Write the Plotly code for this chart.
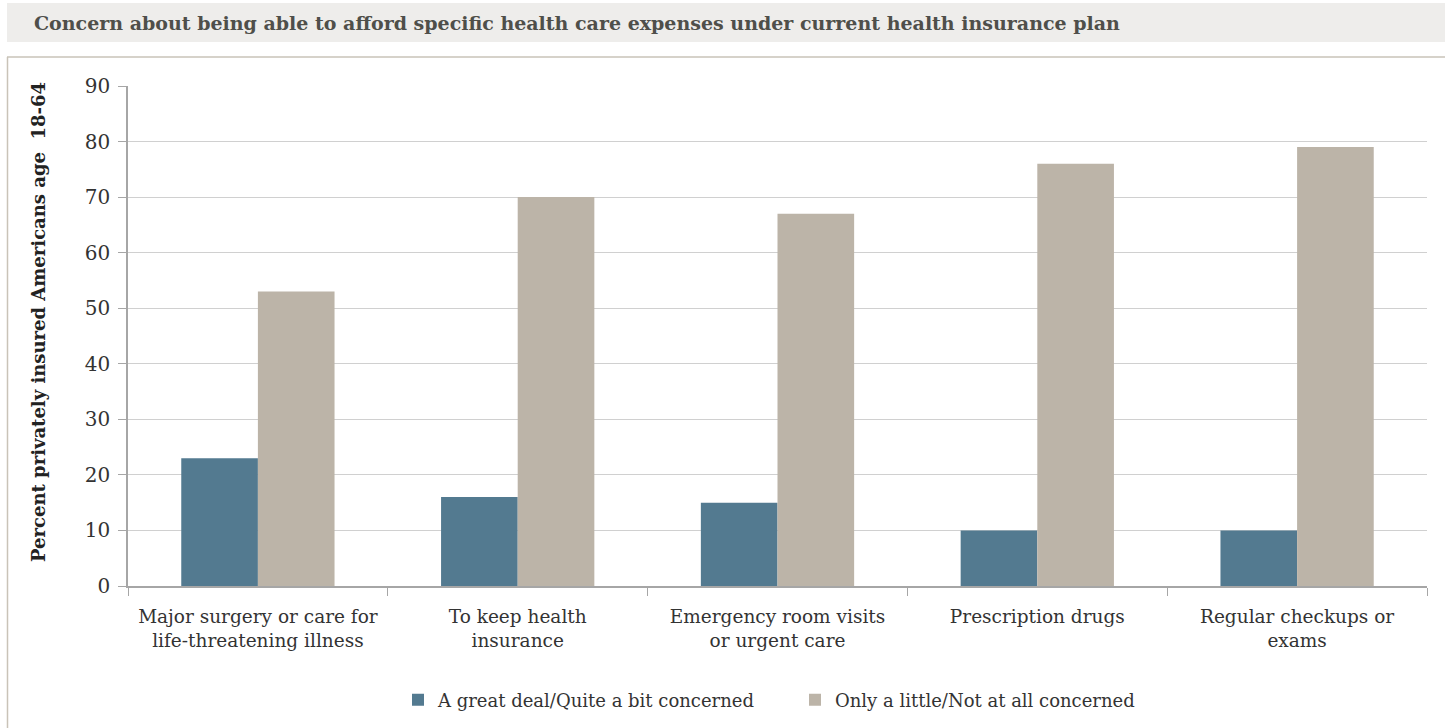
import plotly.graph_objects as go

categories = ["Major surgery or care for<br>life-threatening illness",
              "To keep health<br>insurance",
              "Emergency room visits<br>or urgent care",
              "Prescription drugs",
              "Regular checkups or<br>exams"]
concerned = [23, 16, 15, 10, 10]
not_concerned = [53, 70, 67, 76, 79]
series_names = ["A great deal/Quite a bit concerned", "Only a little/Not at all concerned"]
y_ticks = [0, 10, 20, 30, 40, 50, 60, 70, 80, 90]

W, H = 1445, 728
L, R, T, B = 128, 18, 86, 142
PW, PH = W - L - R, H - T - B

def px(x):
    return (x - L) / PW

def py(y):
    return (H - B - y) / PH

FONT = "DejaVu Serif"

fig = go.Figure()
fig.add_trace(go.Bar(x=categories, y=concerned, name=series_names[0],
                     marker=dict(color="#537a90", line=dict(width=0))))
fig.add_trace(go.Bar(x=categories, y=not_concerned, name=series_names[1],
                     marker=dict(color="#bcb4a8", line=dict(width=0))))

shapes = [
    dict(type="rect", xref="paper", yref="paper", x0=px(7), x1=px(1445), y0=py(42), y1=py(3),
         fillcolor="#eeedeb", line=dict(width=0), layer="below"),
    dict(type="line", xref="paper", yref="paper", x0=px(7), x1=px(1445), y0=py(57), y1=py(57),
         line=dict(color="#c9c3b8", width=1.5)),
    dict(type="line", xref="paper", yref="paper", x0=px(7.5), x1=px(7.5), y0=py(57), y1=py(728),
         line=dict(color="#c9c3b8", width=1.5)),
]

fig.update_layout(
    width=W, height=H,
    margin=dict(l=L, r=R, t=T, b=B, autoexpand=False),
    paper_bgcolor="white", plot_bgcolor="white",
    barmode="group", bargap=0.41, bargroupgap=0,
    font=dict(family=FONT, size=18, color="#333333"),
    shapes=shapes,
    annotations=[
        dict(text="<b>Concern about being able to afford specific health care expenses under current health insurance plan</b>",
             xref="paper", yref="paper", x=px(32), y=py(23), xanchor="left", yanchor="middle",
             showarrow=False, font=dict(family=FONT, size=19, color="#4f4f4a")),
        dict(text="<b>Percent privately insured Americans age  18-64</b>",
             xref="paper", yref="paper", x=px(38), y=py(322), xanchor="center", yanchor="middle",
             textangle=-90, showarrow=False, font=dict(family=FONT, size=18, color="#222222")),
    ],
    legend=dict(orientation="h", x=px(398), xanchor="left", y=py(700), yanchor="middle",
                font=dict(family=FONT, size=18, color="#333333"), entrywidth=352,
                itemwidth=30, traceorder="normal"),
    xaxis=dict(showline=True, linecolor="#a6a6a6", linewidth=1.5, ticks="outside",
               tickson="boundaries", ticklen=8, tickcolor="#a6a6a6", ticklabelstandoff=13,
               automargin=False,
               tickfont=dict(family=FONT, size=18.5, color="#333333")),
    yaxis=dict(range=[0, 90], tickvals=y_ticks, showline=True, linecolor="#a6a6a6", linewidth=1.5,
               ticks="outside", ticklen=8, tickcolor="#a6a6a6", gridcolor="#d0d0d0", gridwidth=1,
               ticklabelstandoff=4, automargin=False,
               zeroline=False, tickfont=dict(family=FONT, size=20, color="#333333")),
)

fig.write_html("out.html")
